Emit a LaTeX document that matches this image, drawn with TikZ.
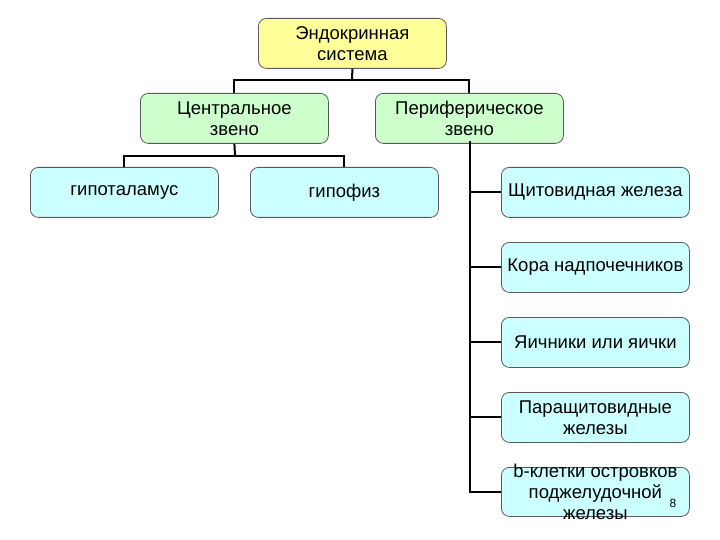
\documentclass[tikz,border=0pt]{standalone}
\usepackage{fontspec}
\setmainfont{Liberation Sans}
\definecolor{topfill}{HTML}{FFFF99}
\definecolor{midfill}{HTML}{CCFFCC}
\definecolor{leaffill}{HTML}{CCFFFF}
\begin{document}
\begin{tikzpicture}[x=1pt,y=-1pt,
  box/.style={draw=black!65, line width=0.8pt, rounded corners=8pt, minimum width=188pt, minimum height=50pt, inner sep=0pt, align=center, font=\fontsize{18.5}{21}\selectfont, anchor=north west},
  topbox/.style={box, fill=topfill},
  midbox/.style={box, fill=midfill},
  leafbox/.style={box, fill=leaffill},
  boxtext/.style={inner sep=0pt, align=center, font=\fontsize{18.5}{21}\selectfont},
  conn/.style={draw=black, line width=2pt}]
\useasboundingbox (0,0) rectangle (720,540);
\node[topbox] (top) at (258,18) {Эндокринная\\система};
\node[midbox] (cen) at (140,93) {Центральное\\звено};
\node[midbox] (per) at (375,93) {Периферическое\\звено};
\node[leafbox] (hyp) at (30,167) {гипоталамус};
\node[leafbox] (pit) at (250,167) {гипофиз};
\node[leafbox] (r1) at (501,167) {Щитовидная железа};
\node[leafbox] (r2) at (501,242) {Кора надпочечников};
\node[leafbox] (r3) at (501,317) {Яичники или яички};
\node[leafbox] (r4) at (501,392) {Паращитовидные\\железы};
\node[leafbox, minimum height=49pt] (r5) at (501,467) {};
\node[boxtext] (r5t) at (r5.center) {b-клетки островков\\поджелудочной\\железы};
\node[font=\fontsize{12}{14}\selectfont, inner sep=0pt] (pg) at (673,503) {8};
% connectors
\coordinate (j1) at (352,80);
\draw[conn] (top.south) -- (j1);
\draw[conn] (cen.north) |- (j1) -| (per.north);
\coordinate (j2) at (235,156);
\draw[conn] (cen.south) -- (j2);
\draw[conn] (hyp.north) |- (j2) -| (pit.north);
\coordinate (sp) at (470,142);
\coordinate (sb) at (470,491.5);
\draw[conn, line cap=rect] (sp) -- (sb);
\foreach \n in {r1,r2,r3,r4,r5}{
  \draw[conn] (\n.west) -- (\n.west -| sp);
}
\end{tikzpicture}
\end{document}
